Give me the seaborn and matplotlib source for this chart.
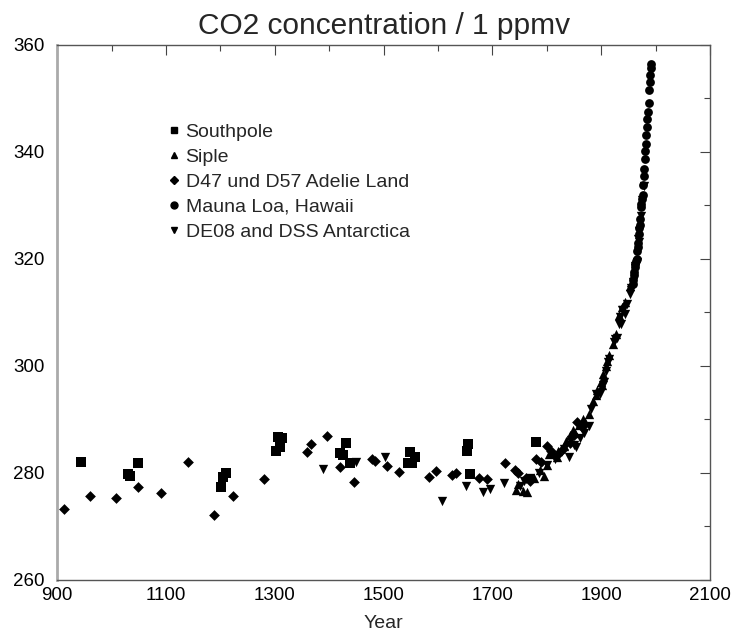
import numpy as np
import pandas as pd
import seaborn as sns
import matplotlib.pyplot as plt
from matplotlib.ticker import MultipleLocator

# Southpole ice core
south_year = [944, 1030, 1034, 1049, 1201, 1205, 1211, 1302, 1306, 1310, 1313,
              1420, 1426, 1431, 1438, 1545, 1549, 1553, 1558, 1653, 1655, 1659, 1780]
south_co2 = [282.1, 279.8, 279.4, 281.9, 277.4, 279.3, 280.0, 284.1, 286.7, 284.9, 286.5,
             283.7, 283.4, 285.6, 281.9, 281.9, 283.9, 281.8, 283.0, 284.1, 285.4, 279.8, 285.8]

# Siple station
siple_year = [1744, 1747, 1756, 1764, 1776, 1788, 1794, 1800, 1804, 1812, 1818, 1821,
              1831, 1836, 1842, 1848, 1852, 1859, 1866, 1871, 1877, 1884, 1890, 1893,
              1899, 1901, 1904, 1909, 1910, 1915, 1921, 1928, 1932, 1939, 1944, 1953]
siple_co2 = [276.8, 277.9, 276.7, 276.5, 279.0, 280.5, 279.5, 281.5, 283.5, 283.8, 283.0, 284.0,
             285.0, 286.0, 287.0, 288.0, 287.5, 289.0, 290.0, 289.5, 291.0, 293.5, 294.5, 295.5,
             297.0, 296.5, 298.5, 300.0, 301.0, 302.0, 304.0, 306.0, 309.5, 311.0, 312.0, 315.0]

# D47 / D57 Adelie Land
adelie_year = [913, 961, 1008, 1049, 1091, 1141, 1188, 1223, 1280, 1359, 1367, 1396,
               1420, 1446, 1479, 1484, 1506, 1528, 1584, 1597, 1626, 1633, 1676, 1690,
               1723, 1742, 1747, 1762, 1770, 1780, 1790, 1800, 1808, 1820, 1830, 1842,
               1850, 1856, 1865]
adelie_co2 = [273.3, 275.7, 275.3, 277.4, 276.3, 282.1, 272.2, 275.7, 278.9, 283.9, 285.4, 286.9,
              281.1, 278.3, 282.6, 282.2, 281.3, 280.2, 279.3, 280.4, 279.6, 280.0, 279.1, 278.9,
              281.9, 280.6, 280.0, 279.0, 278.5, 282.6, 282.0, 285.0, 284.0, 283.5, 284.5, 285.5,
              287.0, 289.5, 288.5]

# Mauna Loa annual means
mauna_year = list(range(1958, 1993))
mauna_co2 = [315.3, 316.0, 316.9, 317.6, 318.5, 319.0, 319.6, 320.0, 321.4, 322.2, 323.0,
             324.6, 325.7, 326.3, 327.5, 329.7, 330.2, 331.1, 332.0, 333.8, 335.4, 336.8,
             338.7, 340.1, 341.5, 343.1, 344.7, 346.1, 347.4, 349.2, 351.6, 353.1, 354.4,
             355.6, 356.4]

# DE08 and DSS Antarctica
de08_year = [1389, 1449, 1503, 1607, 1652, 1683, 1696, 1721, 1750, 1758, 1770, 1785,
             1800, 1815, 1832, 1840, 1845, 1850, 1854, 1861, 1869, 1877, 1882, 1891,
             1892, 1898, 1904, 1905, 1909, 1912, 1915, 1924, 1926, 1929, 1932, 1934,
             1936, 1938, 1940, 1944, 1948, 1953, 1954, 1955, 1959, 1962, 1963, 1965,
             1968, 1969, 1970, 1973, 1975, 1978]
de08_co2 = [280.7, 282.1, 283.0, 274.8, 277.6, 276.4, 277.0, 278.1, 277.5, 278.5, 279.0, 280.0,
            281.5, 282.5, 284.5, 283.0, 286.1, 285.2, 284.9, 286.6, 287.4, 288.8, 291.9, 294.7,
            294.6, 294.7, 296.5, 296.9, 299.0, 300.7, 301.3, 304.4, 305.0, 305.2, 307.8, 309.2,
            307.9, 310.5, 310.5, 309.7, 311.5, 313.5, 314.1, 314.6, 315.7, 318.7, 318.2, 319.5,
            323.7, 323.2, 325.2, 328.0, 331.0, 333.7]

labels = ['Southpole', 'Siple', 'D47 und D57 Adelie Land', 'Mauna Loa, Hawaii',
          'DE08 and DSS Antarctica']
markers = {'Southpole': 's', 'Siple': '^', 'D47 und D57 Adelie Land': 'D',
           'Mauna Loa, Hawaii': 'o', 'DE08 and DSS Antarctica': 'v'}
sizes = {'Southpole': 42, 'Siple': 45, 'D47 und D57 Adelie Land': 30,
         'Mauna Loa, Hawaii': 40, 'DE08 and DSS Antarctica': 45}

series = [(south_year, south_co2), (siple_year, siple_co2), (adelie_year, adelie_co2),
          (mauna_year, mauna_co2), (de08_year, de08_co2)]
df = pd.concat([pd.DataFrame({'Year': y, 'CO2': c, 'Series': lab})
                for (y, c), lab in zip(series, labels)], ignore_index=True)

sns.set_style('white')
plt.rcParams['font.family'] = ['Liberation Sans', 'DejaVu Sans']

fig = plt.figure(figsize=(7.32, 6.31), dpi=100)
ax = fig.add_axes([0.078, 0.081, 0.892, 0.848])

for lab in labels:
    sub = df[df['Series'] == lab]
    sns.scatterplot(data=sub, x='Year', y='CO2', marker=markers[lab], s=sizes[lab],
                    color='black', edgecolor='black', linewidth=0, ax=ax, legend=False)

ax.set_xlim(900, 2100)
ax.set_ylim(260, 360)
ax.set_xticks(range(900, 2101, 200))
ax.xaxis.set_minor_locator(MultipleLocator(100))
ax.yaxis.set_major_locator(MultipleLocator(20))
ax.yaxis.set_minor_locator(MultipleLocator(10))
ax.tick_params(which='both', direction='in', top=True, right=True, labelsize=13.5,
               colors='#444444', labelcolor='black')
ax.tick_params(which='major', length=7, width=0.8)
ax.tick_params(axis='x', which='major', pad=5)
ax.tick_params(axis='y', which='major', pad=9)
ax.tick_params(which='minor', length=4, width=0.8)
for side in ['top', 'right', 'bottom']:
    ax.spines[side].set_color('#555555')
    ax.spines[side].set_linewidth(1)
ax.spines['left'].set_color('#aaaaaa')
ax.spines['left'].set_linewidth(2)

ax.set_title('CO2 concentration / 1 ppmv', fontsize=21.5, pad=8)
ax.set_xlabel('Year', fontsize=14, labelpad=8)
ax.set_ylabel('')

handles = [plt.Line2D([], [], linestyle='none', marker=markers[l], color='black',
                      markersize=5 if markers[l] != 'D' else 4) for l in labels]
ax.legend(handles, labels, loc='upper left', bbox_to_anchor=(0.158, 0.868), frameon=False,
          fontsize=14, handlelength=0.6, handletextpad=0.3, labelspacing=0.38,
          borderaxespad=0)

fig.savefig('out.png', dpi=100)
